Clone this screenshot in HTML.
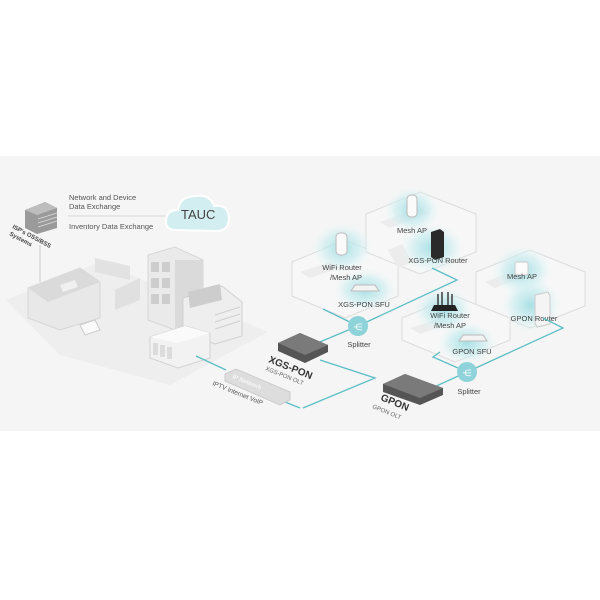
<!DOCTYPE html>
<html><head><meta charset="utf-8"><style>
html,body{margin:0;padding:0;background:#fff;}
svg{display:block;}
text{font-family:"Liberation Sans",sans-serif;}
</style></head><body>
<svg width="600" height="600" viewBox="0 0 600 600" xmlns="http://www.w3.org/2000/svg">
<defs>
<radialGradient id="g" cx="50%" cy="50%" r="50%">
<stop offset="0" stop-color="#9fdde2" stop-opacity="0.9"/>
<stop offset="0.6" stop-color="#c6ecef" stop-opacity="0.6"/>
<stop offset="1" stop-color="#e8f6f7" stop-opacity="0"/>
</radialGradient>
</defs>
<rect x="0" y="156" width="600" height="275" fill="#f5f5f5"/>

<polygon points="6,300 100,262 268,332 170,385 60,355" fill="#eeeeee"/>
<line x1="40" y1="245" x2="40" y2="282" stroke="#e0e0e0" stroke-width="2"/>
<line x1="68" y1="216" x2="170" y2="216" stroke="#e6e6e6" stroke-width="2"/>

<polygon points="25,210 45,202 57,208 57,228 37,234 25,228" fill="#9a9a9a"/>
<polygon points="25,210 45,202 57,208 37,215" fill="#bdbdbd"/>
<g stroke="#ddd" stroke-width="0.8"><line x1="38" y1="219" x2="57" y2="213"/><line x1="38" y1="223" x2="57" y2="217"/><line x1="38" y1="227" x2="57" y2="221"/></g>
<text x="12" y="228" font-size="6" font-weight="bold" fill="#444" transform="rotate(28 12 228)">ISP's OSS/BSS</text>
<text x="9" y="235" font-size="6" font-weight="bold" fill="#444" transform="rotate(28 9 235)">Systems</text>

<text x="69" y="200" font-size="7.5" fill="#555">Network and Device</text>
<text x="69" y="209" font-size="7.5" fill="#555">Data Exchange</text>
<text x="69" y="229" font-size="7.5" fill="#555">Inventory Data Exchange</text>

<g fill="#d3eef1" stroke="#fff" stroke-width="2">
<path d="M176,230 Q165,230 166,220 Q167,210 178,210 Q180,196 196,196 Q210,194 214,206 Q228,204 229,218 Q229,231 216,231 Z"/>
</g>
<text x="181" y="219" font-size="13" fill="#444">TAUC</text>

<polygon points="28,288 80,268 100,282 100,318 60,330 28,318" fill="#e8e8e8" stroke="#d6d6d6"/>
<polygon points="28,288 80,268 100,282 48,302" fill="#dadada"/>
<polygon points="60,285 75,280 78,287 63,292" fill="#f0f0f0"/>
<polygon points="95,258 130,266 130,280 95,272" fill="#e2e2e2"/>
<polygon points="115,290 140,278 140,300 115,310" fill="#e0e0e0"/>
<polygon points="80,325 95,320 100,330 85,335" fill="#fafafa" stroke="#ccc"/>

<polygon points="148,255 175,247 203,260 203,318 175,330 148,320" fill="#eaeaea" stroke="#d6d6d6"/>
<polygon points="175,260 203,260 203,318 175,330" fill="#dadada"/>
<g fill="#cdcdcd"><rect x="151" y="262" width="8" height="10"/><rect x="162" y="262" width="8" height="10"/><rect x="151" y="278" width="8" height="10"/><rect x="162" y="278" width="8" height="10"/><rect x="151" y="294" width="8" height="10"/><rect x="162" y="294" width="8" height="10"/></g>
<polygon points="183,298 222,286 242,302 242,336 215,344 183,332" fill="#eeeeee" stroke="#d0d0d0"/>
<polygon points="188,292 220,284 222,300 190,308" fill="#cdcdcd"/>
<g stroke="#cfcfcf"><line x1="215" y1="315" x2="240" y2="307"/><line x1="215" y1="322" x2="240" y2="314"/><line x1="215" y1="329" x2="240" y2="321"/></g>
<polygon points="150,337 185,326 210,333 210,358 178,368 150,358" fill="#f2f2f2" stroke="#d2d2d2"/>
<polygon points="150,337 185,326 210,333 178,343" fill="#fafafa"/>
<g fill="#dcdcdc"><rect x="153" y="343" width="5" height="12"/><rect x="160" y="345" width="5" height="12"/><rect x="167" y="347" width="5" height="12"/></g>

<g fill="#f7f7f7" stroke="#dcdcdc" stroke-width="1">
<polygon points="292,262 345,240 398,262 398,296 345,318 292,296"/>
<polygon points="366,214 420,192 476,214 476,252 420,274 366,252"/>
<polygon points="476,272 530,250 585,272 585,306 530,328 476,306"/>
<polygon points="402,318 455,296 510,318 510,340 455,362 402,340"/>
</g>
<g fill="#ececec"><polygon points="300,272 330,262 340,268 310,278"/><polygon points="380,222 420,207 430,213 390,228"/><polygon points="485,282 520,268 530,274 495,288"/><polygon points="410,328 440,318 450,324 420,334"/><polygon points="388,250 402,244 412,262 398,268"/></g>

<g fill="url(#g)">
<ellipse cx="342" cy="248" rx="30" ry="25"/><ellipse cx="365" cy="290" rx="32" ry="21"/>
<ellipse cx="412" cy="210" rx="28" ry="23"/><ellipse cx="432" cy="248" rx="32" ry="25"/>
<ellipse cx="522" cy="271" rx="30" ry="25"/><ellipse cx="531" cy="305" rx="30" ry="27"/>
<ellipse cx="443" cy="310" rx="30" ry="23"/><ellipse cx="467" cy="343" rx="30" ry="21"/>
</g>
<rect x="336" y="233" width="11" height="22" rx="4" fill="#fafafa" stroke="#bbb"/>
<rect x="407" y="195" width="10" height="22" rx="4" fill="#fafafa" stroke="#bbb"/>
<polygon points="431,232 440,229 444,232 444,257 435,260 431,257" fill="#2a2a2a"/>
<rect x="515" y="262" width="13" height="13" rx="2" fill="#fafafa" stroke="#ccc"/>
<polygon points="535,295 548,292 550,296 550,324 537,327 535,323" fill="#f4f4f4" stroke="#ccc"/>
<g stroke="#222" stroke-width="1.3"><line x1="438" y1="294" x2="438" y2="306"/><line x1="442" y1="292" x2="442" y2="306"/><line x1="448" y1="292" x2="448" y2="306"/><line x1="452" y1="294" x2="452" y2="306"/></g>
<polygon points="434,305 455,305 458,311 431,311" fill="#222"/>
<polygon points="355,285 375,285 379,291 351,291" fill="#f3f3f3" stroke="#bbb"/>
<polygon points="463,335 483,335 487,341 459,341" fill="#f3f3f3" stroke="#bbb"/>

<g font-size="7.5" fill="#444" text-anchor="middle">
<text x="342" y="270">WiFi Router</text><text x="346" y="280">/Mesh AP</text>
<text x="412" y="233">Mesh AP</text><text x="438" y="263">XGS-PON Router</text>
<text x="522" y="279">Mesh AP</text><text x="534" y="321">GPON Router</text>
<text x="450" y="318">WiFi Router</text><text x="450" y="328">/Mesh AP</text>
<text x="364" y="307">XGS-PON SFU</text><text x="472" y="354">GPON SFU</text>
<text x="359" y="347">Splitter</text><text x="469" y="394">Splitter</text>
</g>

<g fill="none" stroke="#5cbfc6" stroke-width="1.3">
<polyline points="432,268 457,280 358,326"/>
<polyline points="323,309 358,326"/>
<line x1="358" y1="326" x2="315" y2="344"/>
<polyline points="320,360 375,378 303,408"/>
<polyline points="196,356 226,370"/>
<polyline points="285,402 300,408"/>
<polyline points="432,388 467,372 563,328 543,318"/>
<polyline points="467,372 433,357 440,352"/>
</g>
<circle cx="358" cy="326" r="10" fill="#8dd3d9"/>
<text x="358" y="330" font-size="9" fill="#fff" text-anchor="middle">⋲</text>
<circle cx="467" cy="372" r="10" fill="#8dd3d9"/>
<text x="467" y="376" font-size="9" fill="#fff" text-anchor="middle">⋲</text>

<polygon points="278,343 300,333 328,345 328,352 305,363 278,351" fill="#555"/>
<polygon points="278,343 300,333 328,345 305,355" fill="#7a7a7a"/>
<text x="268" y="362" font-size="10" font-weight="bold" fill="#333" transform="rotate(22 268 362)">XGS-PON</text>
<text x="265" y="370" font-size="6" fill="#666" transform="rotate(22 265 370)">XGS-PON OLT</text>
<polygon points="383,384 405,374 443,388 443,395 420,405 383,392" fill="#555"/>
<polygon points="383,384 405,374 443,388 420,398" fill="#7a7a7a"/>
<text x="380" y="400" font-size="10" font-weight="bold" fill="#333" transform="rotate(22 380 400)">GPON</text>
<text x="372" y="408" font-size="6" fill="#666" transform="rotate(22 372 408)">GPON OLT</text>

<polygon points="225,374 236,369 290,392 290,400 280,405 225,381" fill="#ddd" stroke="#ccc"/>
<text x="232" y="378" font-size="6" font-weight="bold" fill="#f7f7f7" transform="rotate(22 232 378)">IP Network</text>
<text x="212" y="385" font-size="6.5" fill="#555" transform="rotate(22 212 385)">IPTV Internet VoIP</text>
</svg>
</body></html>
